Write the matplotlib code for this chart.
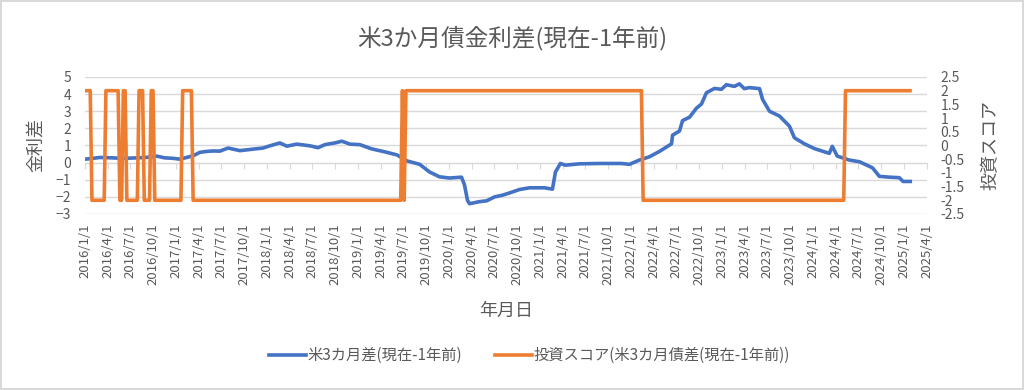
import pandas as pd
import matplotlib
matplotlib.use("Agg")
import matplotlib.pyplot as plt
import matplotlib.dates as mdates
from matplotlib.ticker import FuncFormatter, MultipleLocator

plt.rcParams['font.family'] = ['Noto Sans CJK JP', 'DejaVu Sans']

# 米3カ月差 (左軸)
blue_dates = [
    "2016-01-01", "2016-02-01", "2016-03-01", "2016-04-15", "2016-06-01", "2016-07-15",
    "2016-09-01", "2016-10-15", "2016-11-15", "2016-12-20", "2017-01-16", "2017-02-25",
    "2017-03-17", "2017-04-06", "2017-05-01", "2017-05-28", "2017-06-25", "2017-07-28",
    "2017-09-14", "2017-11-13", "2017-12-15", "2018-01-12", "2018-02-21", "2018-03-21",
    "2018-04-30", "2018-06-22", "2018-07-24", "2018-08-21", "2018-09-30", "2018-10-28",
    "2018-11-29", "2019-01-08", "2019-02-25", "2019-04-18", "2019-06-06", "2019-07-16",
    "2019-09-05", "2019-10-15", "2019-11-24", "2020-01-03", "2020-02-20", "2020-03-03",
    "2020-03-15", "2020-03-23", "2020-05-02", "2020-05-31", "2020-07-02", "2020-08-03",
    "2020-08-31", "2020-10-10", "2020-11-19", "2021-01-18", "2021-02-19", "2021-03-03",
    "2021-03-23", "2021-04-12", "2021-06-08", "2021-08-27", "2021-11-23", "2021-12-25",
    "2022-02-03", "2022-03-15", "2022-04-24", "2022-05-27", "2022-06-12", "2022-06-16",
    "2022-07-14", "2022-07-26", "2022-08-23", "2022-09-20", "2022-10-10", "2022-10-30",
    "2022-12-01", "2022-12-29", "2023-01-18", "2023-02-19", "2023-03-11", "2023-03-31",
    "2023-04-20", "2023-05-31", "2023-06-12", "2023-07-10", "2023-08-19", "2023-09-28",
    "2023-10-18", "2023-11-27", "2024-01-06", "2024-03-06", "2024-03-18", "2024-04-07",
    "2024-05-25", "2024-07-05", "2024-08-26", "2024-09-23", "2024-11-02", "2024-12-12",
    "2024-12-27", "2025-01-25",
]
blue_vals = [
    0.20, 0.25, 0.30, 0.28, 0.25, 0.27,
    0.30, 0.38, 0.28, 0.25, 0.20, 0.35,
    0.45, 0.60, 0.65, 0.68, 0.67, 0.85,
    0.70, 0.80, 0.85, 0.98, 1.15, 0.96,
    1.08, 0.98, 0.87, 1.05, 1.15, 1.25,
    1.08, 1.05, 0.80, 0.63, 0.45, 0.10,
    -0.10, -0.55, -0.83, -0.90, -0.85, -1.30,
    -2.20, -2.40, -2.28, -2.23, -2.00, -1.90,
    -1.77, -1.57, -1.47, -1.47, -1.55, -0.55,
    -0.05, -0.15, -0.07, -0.05, -0.05, -0.10,
    0.15, 0.34, 0.65, 0.95, 1.10, 1.60,
    1.85, 2.45, 2.65, 3.18, 3.42, 4.08,
    4.33, 4.28, 4.55, 4.45, 4.60, 4.32,
    4.38, 4.32, 3.70, 3.00, 2.72, 2.13,
    1.45, 1.10, 0.82, 0.54, 0.95, 0.38,
    0.15, 0.05, -0.30, -0.80, -0.85, -0.88,
    -1.10, -1.10,
]

# 投資スコア (右軸)
orange_dates = [
    "2016-01-01", "2016-01-22", "2016-01-29", "2016-03-18", "2016-03-25", "2016-05-13",
    "2016-05-20", "2016-05-27", "2016-06-03", "2016-06-10", "2016-06-17", "2016-07-29",
    "2016-08-05", "2016-08-19", "2016-08-26", "2016-09-16", "2016-09-23", "2016-09-30",
    "2016-10-07", "2017-01-20", "2017-01-27", "2017-03-03", "2017-03-10", "2019-06-21",
    "2019-06-28", "2019-07-05", "2019-07-12", "2022-02-11", "2022-02-18", "2024-05-03",
    "2024-05-10", "2025-01-24",
]
orange_vals = [
    2, 2, -2, -2, 2, 2,
    -2, -2, 2, 2, -2, -2,
    2, 2, -2, -2, 2, 2,
    -2, -2, 2, 2, -2, -2,
    2, -2, 2, 2, -2, -2,
    2, 2,
]

quarter_start = "2016-01-01"
quarter_end = "2025-04-01"

gray = "#595959"
grid_c = "#D9D9D9"

fig = plt.figure(figsize=(10.24, 3.9), dpi=100)
fig.patch.set_edgecolor(grid_c)
fig.patch.set_linewidth(1.5)
ax = fig.add_axes([0.083, 0.4513, 0.822, 0.3513])
ax2 = ax.twinx()

bd = pd.to_datetime(blue_dates)
od = pd.to_datetime(orange_dates)

l1, = ax.plot(bd, blue_vals, color="#4472C4", lw=2.6, solid_joinstyle="round",
              label="米3カ月差(現在-1年前)")
l2, = ax2.plot(od, orange_vals, color="#ED7D31", lw=2.6,
               label="投資スコア(米3カ月債差(現在-1年前))")

ax.set_xlim(pd.Timestamp(quarter_start), pd.Timestamp(quarter_end))
ax.set_ylim(-3, 5)
ax2.set_ylim(-2.5, 2.5)
ax.yaxis.set_major_locator(MultipleLocator(1))
ax2.yaxis.set_major_locator(MultipleLocator(0.5))
ax2.yaxis.set_major_formatter(FuncFormatter(lambda v, p: f"{v:g}"))

ax.xaxis.set_major_locator(mdates.MonthLocator(bymonth=[1, 4, 7, 10]))
ax.xaxis.set_major_formatter(FuncFormatter(
    lambda v, p: (lambda d: f"{d.year}/{d.month}/{d.day}")(mdates.num2date(v))))

for a in (ax, ax2):
    for s in a.spines.values():
        s.set_visible(False)
ax.grid(axis="y", color=grid_c, lw=1)
ax.set_axisbelow(True)

ax.tick_params(axis="x", length=0, pad=7, labelrotation=90, labelsize=9.5, labelcolor=gray)
ax.tick_params(axis="y", length=0, pad=10, labelsize=10, labelcolor=gray)
ax2.tick_params(axis="y", length=0, pad=10, labelsize=10, labelcolor=gray)

# 0 の位置の横軸目盛り
sec = ax.secondary_xaxis(3 / 8)
sec.xaxis.set_major_locator(mdates.MonthLocator(bymonth=[1, 4, 7, 10]))
sec.tick_params(axis="x", direction="out", length=4, color=grid_c, labelbottom=False,
                labeltop=False, bottom=True, top=False)
sec.spines["bottom"].set_color(grid_c)
for k in ("top", "left", "right"):
    sec.spines[k].set_visible(False)
sec.set_xticklabels([])

ax.set_xlabel("年月日", fontsize=13, color=gray, labelpad=12)
ax.set_ylabel("金利差", fontsize=13, color=gray, labelpad=8)
ax2.set_ylabel("投資スコア", fontsize=13, color=gray, rotation=90, labelpad=12)

fig.suptitle("米3か月債金利差(現在-1年前)", fontsize=17, color=gray, y=0.935)

fig.legend(handles=[l1, l2], loc="center", bbox_to_anchor=(0.517, 0.088), ncol=2,
           frameon=False, fontsize=11, labelcolor=gray, handlelength=2.4,
           handletextpad=0.1, columnspacing=2.2)

fig.savefig("out.png", dpi=100)
